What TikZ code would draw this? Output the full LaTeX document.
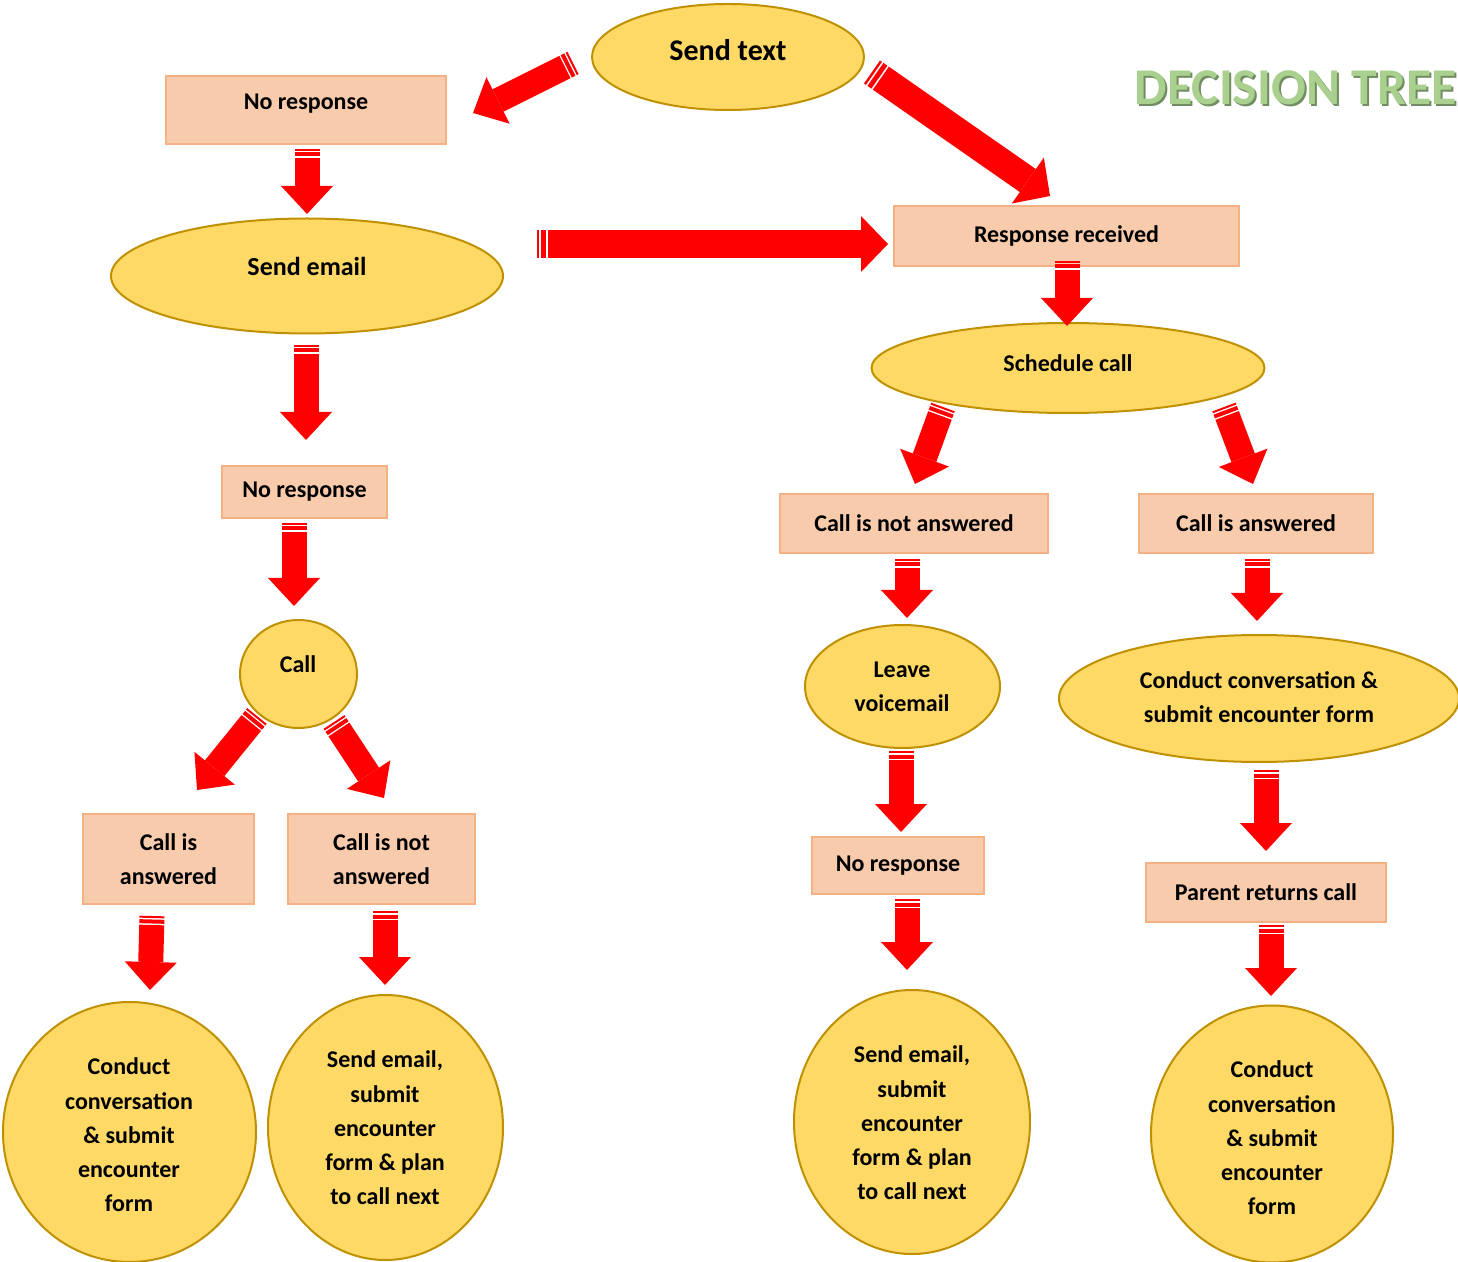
\documentclass[tikz,border=0pt]{standalone}
\usepackage{fontspec}
\setmainfont{Carlito}
\usetikzlibrary{shapes.geometric,arrows.meta,calc}
\definecolor{ovfill}{RGB}{255,217,102}
\definecolor{ovline}{RGB}{191,144,0}
\definecolor{bxfill}{RGB}{248,203,173}
\definecolor{bxline}{RGB}{244,177,131}
\definecolor{arred}{RGB}{255,0,0}
\definecolor{ttl}{RGB}{169,208,142}
\definecolor{ttlsh}{RGB}{112,140,96}
\begin{document}
\begin{tikzpicture}[x=0.5pt,y=-0.5pt,
 oval/.style={ellipse, draw=ovline, fill=ovfill, line width=1pt, inner sep=0pt},
 box/.style={rectangle, draw=bxline, fill=bxfill, line width=1pt, inner sep=0pt, font=\fontsize{12}{17}\selectfont\bfseries, align=center},
 txt/.style={inner sep=0pt, font=\fontsize{12}{17.1}\selectfont\bfseries, align=center},
 barrow/.style={draw=arred, line width=12.5pt, dash pattern=on 1pt off 0.75pt on 2pt off 0.75pt on 3000pt, -{Triangle[width=26pt,length=14pt,line width=0pt]}},
 bigarrow/.style={draw=arred, line width=14pt, dash pattern=on 1.2pt off 0.9pt on 2.4pt off 0.9pt on 3000pt, -{Triangle[width=28pt,length=13.5pt,line width=0pt]}},
 ttlfont/.style={anchor=west, inner sep=0pt, font=\fontsize{25.8}{28}\selectfont\bfseries},
]
\useasboundingbox (0,0) rectangle (1458,1262);
\clip (0,0) rectangle (1458,1262);

% title
\node[ttlfont, text=ttlsh] (titlesh) at (1136.5,89.5) {DECISION TREE};
\node[ttlfont, text=ttl] (title) at (1134.5,88) {DECISION TREE};

% ovals
\node[oval, minimum width=136pt, minimum height=53pt] (stext) at (728,57) {};
\node[txt, font=\fontsize{15}{18}\selectfont\bfseries] (tstext) at (728,50) {Send text};
\node[oval, minimum width=196pt, minimum height=57.5pt] (email) at (307,276) {};
\node[txt, font=\fontsize{13}{16}\selectfont\bfseries] (temail) at (307,266) {Send email};
\node[oval, minimum width=196.5pt, minimum height=45pt] (sched) at (1068,368) {};
\node[txt] (tsched) at (1068,363) {Schedule call};
\node[oval, minimum width=58.5pt, minimum height=54pt] (call) at (298.5,674) {};
\node[txt] (tcall) at (298,664) {Call};
\node[oval, minimum width=97.5pt, minimum height=61.5pt] (voice) at (902.5,686.5) {};
\node[txt] (tvoice) at (902,687) {Leave\\voicemail};
\node[oval, minimum width=200pt, minimum height=63.5pt] (convR) at (1259,698.5) {};
\node[txt] (tconvR) at (1259,697.5) {Conduct conversation \&\\submit encounter form};
\node[oval, minimum width=126.5pt, minimum height=130pt] (c1) at (129.5,1132) {};
\node[txt] (tc1) at (129,1135) {Conduct\\conversation\\\& submit\\encounter\\form};
\node[oval, minimum width=117.5pt, minimum height=132.5pt] (c2) at (385.5,1127.5) {};
\node[txt] (tc2) at (385,1128) {Send email,\\submit\\encounter\\form \& plan\\to call next};
\node[oval, minimum width=118pt, minimum height=132pt] (c3) at (912,1122) {};
\node[txt] (tc3) at (912,1123) {Send email,\\submit\\encounter\\form \& plan\\to call next};
\node[oval, minimum width=121pt, minimum height=128.5pt] (c4) at (1272,1134) {};
\node[txt] (tc4) at (1272,1138) {Conduct\\conversation\\\& submit\\encounter\\form};

% boxes
\node[box, minimum width=140pt, minimum height=34pt, text depth=8pt] (nr1) at (306,110) {No response};
\node[box, minimum width=172.5pt, minimum height=30pt] (resp) at (1066.5,236) {Response received};
\node[box, minimum width=82.5pt, minimum height=26pt] (nr2) at (304.5,492) {\raisebox{-1.5pt}{No response}};
\node[box, minimum width=134pt, minimum height=29.5pt] (cnaR) at (914,523.5) {Call is not answered};
\node[box, minimum width=117pt, minimum height=29.5pt] (caR) at (1256,523.5) {Call is answered};
\node[box, minimum width=85.5pt, minimum height=45pt] (caL) at (168.5,859) {Call is\\answered};
\node[box, minimum width=93.5pt, minimum height=45pt] (cnaL) at (381.5,859) {Call is not\\answered};
\node[box, minimum width=86pt, minimum height=28.5pt] (nr3) at (898,865.5) {No response};
\node[box, minimum width=120pt, minimum height=29.5pt] (parent) at (1266,892.5) {Parent returns call};

% arrow end points
\coordinate (a1s) at (573,63);   \coordinate (a1e) at (473,113);
\coordinate (a2s) at (872,72);   \coordinate (a2e) at (1050,196);
\coordinate (a3s) at (307,149);  \coordinate (a3e) at (307,214);
\coordinate (a4s) at (537,244);  \coordinate (a4e) at (888,244);
\coordinate (a5s) at (306,345);  \coordinate (a5e) at (306,440);
\coordinate (a6s) at (294,523);  \coordinate (a6e) at (294,606);
\coordinate (a7s) at (257,716);  \coordinate (a7e) at (197,790);
\coordinate (a8s) at (334,722);  \coordinate (a8e) at (384,798);
\coordinate (a9s) at (152,916);  \coordinate (a9e) at (150,990);
\coordinate (a10s) at (385,911); \coordinate (a10e) at (385,985);
\coordinate (a11s) at (1067,261); \coordinate (a11e) at (1067,326);
\coordinate (a12s) at (943,407); \coordinate (a12e) at (915,484);
\coordinate (a13s) at (1224,407); \coordinate (a13e) at (1253,484);
\coordinate (a14s) at (907,559); \coordinate (a14e) at (907,618);
\coordinate (a15s) at (1257,559); \coordinate (a15e) at (1257,621);
\coordinate (a16s) at (901,751); \coordinate (a16e) at (901,832);
\coordinate (a17s) at (907,899); \coordinate (a17e) at (907,970);
\coordinate (a18s) at (1266,770); \coordinate (a18e) at (1266,851);
\coordinate (a19s) at (1271,925); \coordinate (a19e) at (1271,996);

\draw[barrow] (a1s) -- (a1e);
\draw[bigarrow] (a2s) -- (a2e);
\draw[barrow] (a3s) -- (a3e);
\draw[bigarrow] (a4s) -- (a4e);
\draw[barrow] (a5s) -- (a5e);
\draw[barrow] (a6s) -- (a6e);
\draw[barrow] (a7s) -- (a7e);
\draw[barrow] (a8s) -- (a8e);
\draw[barrow] (a9s) -- (a9e);
\draw[barrow] (a10s) -- (a10e);
\draw[barrow] (a11s) -- (a11e);
\draw[barrow] (a12s) -- (a12e);
\draw[barrow] (a13s) -- (a13e);
\draw[barrow] (a14s) -- (a14e);
\draw[barrow] (a15s) -- (a15e);
\draw[barrow] (a16s) -- (a16e);
\draw[barrow] (a17s) -- (a17e);
\draw[barrow] (a18s) -- (a18e);
\draw[barrow] (a19s) -- (a19e);
\end{tikzpicture}
\end{document}
